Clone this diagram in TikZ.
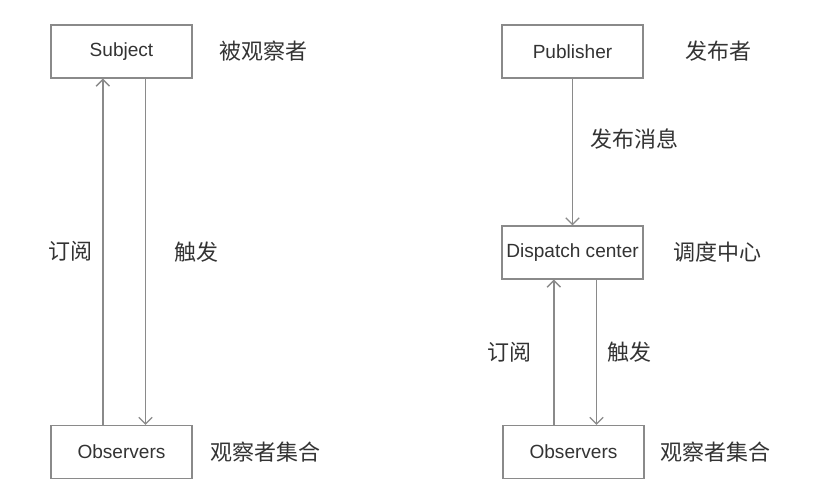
\documentclass[tikz,border=0pt]{standalone}
\usepackage{fontspec}
\setmainfont{Liberation Sans}
\newfontfamily\cjk{Noto Sans CJK SC}
\usepackage{tikz}
\usetikzlibrary{arrows.meta, positioning}
\definecolor{colorLine}{HTML}{8A8A8A}
\definecolor{colorText}{HTML}{333333}
\tikzset{box/.style={draw=colorLine, line width=1.1pt, minimum width=105.5pt, minimum height=39.5pt, inner xsep=2pt, text=colorText, font=\fontsize{14.3}{16}\selectfont}}
\tikzset{tag/.style={inner sep=0pt, text=colorText, font=\cjk\fontsize{16.5}{18}\selectfont}}

\begin{document}
\begin{tikzpicture}[x=0.75pt, y=-0.75pt, >={Straight Barb[length=5pt, width=10pt]}, arr/.style={->, draw=colorLine, line width=1pt}]
\useasboundingbox (0,0) rectangle (831,499);
% observer pattern
\node[box] (subj) at (121.5,51.5) {Subject};
\node[box] (obsL) at (121.5,452) {Observers};
\node[tag, right=20pt of subj] (subjTag) {被观察者};
\node[tag, right=13pt of obsL] (obsLTag) {观察者集合};
\draw [arr] ([xshift=-14pt]obsL.north) -- node [tag, left=7pt] {订阅} ([xshift=-14pt]subj.south);
\draw [arr] ([xshift=18pt]subj.south) -- node [tag, right=21pt] {触发} ([xshift=18pt]obsL.north);
% publish-subscribe pattern
\node[box] (pub) at (572.5,51.5) {Publisher};
\node[box] (disp) at (572.5,252.5) {Dispatch center};
\node[box] (obsR) at (573.5,452) {Observers};
\node[tag, right=31.5pt of pub] (pubTag) {发布者};
\node[tag, right=22pt of disp] (dispTag) {调度中心};
\node[tag, right=12pt of obsR] (obsRTag) {观察者集合};
\draw [arr] (pub) -- node [tag, pos=0.41, right=13pt] {发布消息} (disp);
\draw [arr] ([xshift=-14pt]obsR.north -| disp.south) -- node [tag, left=16pt] {订阅} ([xshift=-14pt]disp.south);
\draw [arr] ([xshift=18pt]disp.south) -- node [tag, right=8pt] {触发} ([xshift=18pt]disp.south |- obsR.north);
\end{tikzpicture}
\end{document}
